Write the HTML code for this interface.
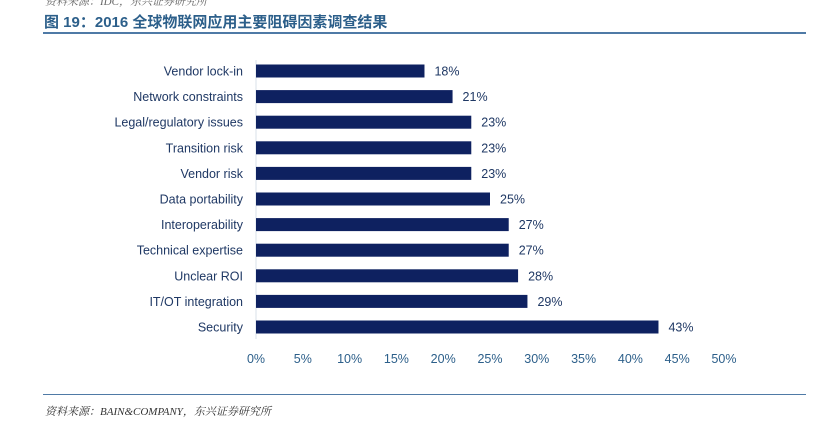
<!DOCTYPE html>
<html><head><meta charset="utf-8">
<style>
body{margin:0;width:814px;height:433px;background:#fff;overflow:hidden;position:relative;font-family:"Liberation Sans","Noto Sans CJK SC",sans-serif}
.t{position:absolute;white-space:nowrap}
</style></head><body>
<div class="t" style="left:45px;top:-7px;font-size:11px;color:#666;font-style:italic;font-family:'Liberation Serif','Noto Serif CJK SC',serif">资料来源：IDC，东兴证券研究所</div>
<div class="t" style="left:44px;top:11px;font-size:15px;font-weight:bold;color:#2c5f8a">图 19：2016 全球物联网应用主要阻碍因素调查结果</div>
<div style="position:absolute;left:43px;top:32px;width:763px;height:2px;background:#4f7aa6"></div>
<svg id="c" width="814" height="433" style="position:absolute;left:0;top:0"></svg>
<div style="position:absolute;left:43px;top:394px;width:763px;height:1px;background:#4f7aa6"></div>
<div class="t" style="left:45px;top:403px;font-size:11px;color:#333;font-style:italic;font-family:'Liberation Serif','Noto Serif CJK SC',serif">资料来源：BAIN&amp;COMPANY，东兴证券研究所</div>
<script>
const categories=["Vendor lock-in","Network constraints","Legal/regulatory issues","Transition risk","Vendor risk","Data portability","Interoperability","Technical expertise","Unclear ROI","IT/OT integration","Security"];
const values=[18,21,23,23,23,25,27,27,28,29,43];
const ticks=[0,5,10,15,20,25,30,35,40,45,50];
const svg=document.getElementById('c');const NS='http://www.w3.org/2000/svg';
const x=v=>256+v*9.36;
const y=i=>71+i*25.6;
function mk(t,a){const e=document.createElementNS(NS,t);for(const k in a)e.setAttribute(k,a[k]);svg.appendChild(e);return e;}
const ax=mk('line',{x1:256,x2:256,y1:60,y2:339,stroke:'#d9e1ea','stroke-width':1});


categories.forEach((c,i)=>{
 const r=mk('rect',{x:x(0),y:y(i)-6.5,width:x(values[i])-x(0),height:13,fill:'#0e2160'});
 
 
 const l=mk('text',{x:243,y:y(i)+4.5,'text-anchor':'end','font-size':12.5,fill:'#1f3864','font-family':'Liberation Sans,sans-serif'});
 l.textContent=c;
 
 
 const v=mk('text',{x:x(values[i])+10,y:y(i)+4.5,'font-size':12.5,fill:'#1f3864','font-family':'Liberation Sans,sans-serif'});
 v.textContent=values[i]+'%';
 
 
});
ticks.forEach(t=>{
 const e=mk('text',{x:x(t),y:363,'text-anchor':'middle','font-size':12.5,fill:'#2c5f8a','font-family':'Liberation Sans,sans-serif'});
 e.textContent=t+'%';
 
 
});
</script>
</body></html>
